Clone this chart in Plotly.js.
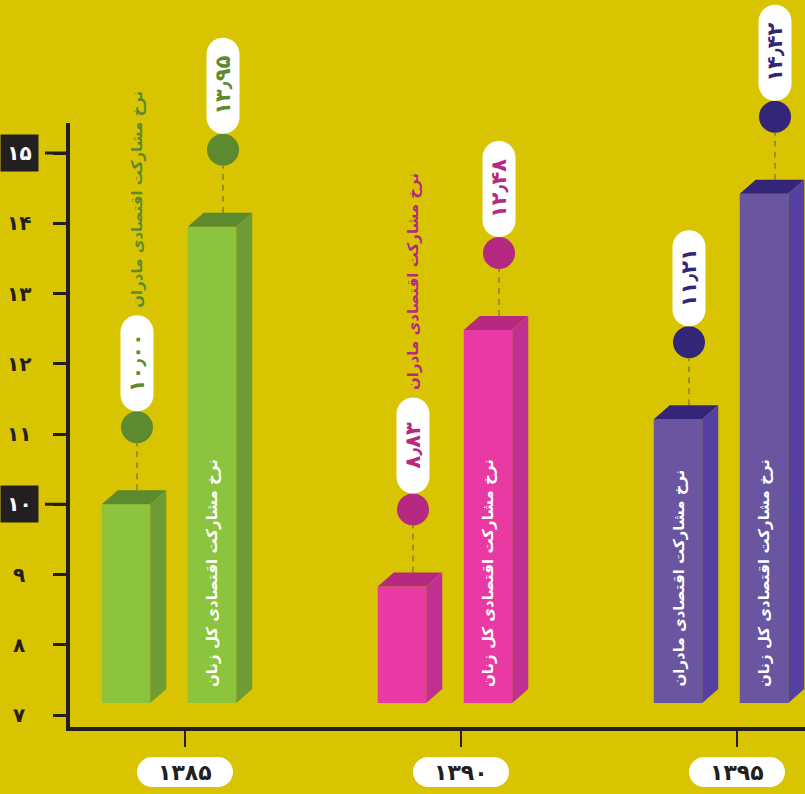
<!DOCTYPE html>
<html><head><meta charset="utf-8">
<script src="https://cdn.plot.ly/plotly-3.0.1.min.js"></script>
<style>html,body{margin:0;padding:0;background:#d8c400;}</style>
</head><body><div id="chart" style="width:805px;height:794px;"></div>
<script>
// ---------- data ----------
const years = [1385, 1390, 1395];
const yearLabels = ['۱۳۸۵', '۱۳۹۰', '۱۳۹۵'];
const mothersRate = [10.00, 8.83, 11.21];
const womenRate = [13.95, 12.48, 14.42];
const mothersName = 'نرخ مشارکت اقتصادی مادران';
const womenName = 'نرخ مشارکت اقتصادی کل زنان';
const yTickVals = [7, 8, 9, 10, 11, 12, 13, 14, 15];
const yTickText = ['۷', '۸', '۹', '۱۰', '۱۱', '۱۲', '۱۳', '۱۴', '۱۵'];
const yBoxedTicks = [10, 15];

// ---------- style / geometry ----------
const FONT = 'DejaVu Sans, Noto Sans, sans-serif';
const INK = '#231f20';
const BG = '#d8c400';
const DASH = '#9e9020';
const palettes = [
  {front: '#8cc43e', side: '#6c9c33', top: '#5e8a2f', dark: '#5e8a2f'},
  {front: '#e83aa2', side: '#c22f92', top: '#b52a80', dark: '#b52a80'},
  {front: '#6a55a0', side: '#5340a0', top: '#332679', dark: '#332679'}
];
const W = 805, H = 794;
const M = {l: 68, r: 0, t: 0, b: 67};
const PW = W - M.l - M.r, PH = H - M.t - M.b;
const PX_PER_Y = 70.25, PX_PER_X = 55.2;
const Y0 = 7 - 12 / PX_PER_Y;
const yRange = [Y0, Y0 + PH / PX_PER_Y];
const X0 = years[0] - 117 / PX_PER_X;
const xRange = [X0, X0 + PW / PX_PER_X];
const dxU = px => px / PX_PER_X;
const dyU = px => px / PX_PER_Y;
const toPaperX = x => (x - xRange[0]) / (xRange[1] - xRange[0]);
const BASE = Y0 + dyU(24);
const BAR_W = dxU(48.5);
const OFFSETS = [dxU(-59) - BAR_W / 2, dxU(27) - BAR_W / 2];
const DEPTH_X = 16, DEPTH_Y = 14;

const faDigits = '۰۱۲۳۴۵۶۷۸۹';
const toFa = s => String(s).replace(/[0-9]/g, d => faDigits[+d]).replace('.', '٫');

function roundRect(cx, cy, w, h, fx, fy) {
  const r = Math.min(w, h) / 2, k = 0.5523, hw = w / 2, hh = h / 2;
  const P = (x, y) => (cx + fx(x)) + ',' + (cy + fy(y));
  return 'M' + P(-hw + r, -hh) + ' L' + P(hw - r, -hh) +
    ' C' + P(hw - r + k * r, -hh) + ' ' + P(hw, -hh + r - k * r) + ' ' + P(hw, -hh + r) +
    ' L' + P(hw, hh - r) +
    ' C' + P(hw, hh - r + k * r) + ' ' + P(hw - r + k * r, hh) + ' ' + P(hw - r, hh) +
    ' L' + P(-hw + r, hh) +
    ' C' + P(-hw + r - k * r, hh) + ' ' + P(-hw, hh - r + k * r) + ' ' + P(-hw, hh - r) +
    ' L' + P(-hw, -hh + r) +
    ' C' + P(-hw, -hh + r - k * r) + ' ' + P(-hw + r - k * r, -hh) + ' ' + P(-hw + r, -hh) + ' Z';
}

const traces = [];
const shapes = [];
const annotations = [];
const series = [
  {name: mothersName, values: mothersRate},
  {name: womenName, values: womenRate}
];

series.forEach((s, si) => {
  const off = OFFSETS[si];
  traces.push({
    type: 'bar', name: s.name, x: years, y: s.values.map(v => v - BASE), base: BASE,
    width: BAR_W, offset: off,
    marker: {color: palettes.map(p => p.front), line: {width: 0}},
    hoverinfo: 'skip', textposition: 'none'
  });
  const cxs = [], cys = [];
  s.values.forEach((v, i) => {
    const pal = palettes[i];
    const xl = years[i] + off, xr = xl + BAR_W, ddx = dxU(DEPTH_X), ddy = dyU(DEPTH_Y);
    shapes.push({type: 'path', xref: 'x', yref: 'y', layer: 'above', line: {width: 0}, fillcolor: pal.top,
      path: `M${xl},${v} L${xr},${v} L${xr + ddx},${v + ddy} L${xl + ddx},${v + ddy} Z`});
    shapes.push({type: 'path', xref: 'x', yref: 'y', layer: 'above', line: {width: 0}, fillcolor: pal.side,
      path: `M${xr},${v} L${xr + ddx},${v + ddy} L${xr + ddx},${BASE + ddy} L${xr},${BASE} Z`});
    const barC = xl + BAR_W / 2;
    const cx = barC + dxU(11);
    const cy = v + dyU(77);
    cxs.push(cx); cys.push(cy);
    shapes.push({type: 'line', xref: 'x', yref: 'y', layer: 'below', x0: cx, x1: cx,
      y0: v + dyU(DEPTH_Y), y1: cy - dyU(16), line: {color: DASH, width: 2, dash: '6px,5px'}});
    const py = cy + dyU(64);
    shapes.push({type: 'path', xref: 'x', yref: 'y', layer: 'above', line: {width: 0}, fillcolor: '#ffffff',
      path: roundRect(cx, py, 33, 96, dxU, dyU)});
    annotations.push({x: cx, y: py, xref: 'x', yref: 'y', text: toFa(v.toFixed(2)), showarrow: false,
      textangle: -90, xanchor: 'center', yanchor: 'middle',
      font: {family: FONT, size: 21, color: pal.dark, weight: 'bold'}});
    // series label
    const fits = (v - BASE) * PX_PER_Y > 250;
    if (fits) {
      annotations.push({x: barC, y: BASE, xref: 'x', yref: 'y', yshift: 14, text: s.name, showarrow: false,
        textangle: -90, xanchor: 'center', yanchor: 'bottom',
        font: {family: FONT, size: 15, color: '#ffffff', weight: 'bold'}});
    } else {
      annotations.push({x: cx, y: py + dyU(53), xref: 'x', yref: 'y', text: s.name, showarrow: false,
        textangle: -90, xanchor: 'center', yanchor: 'bottom',
        font: {family: FONT, size: 15, color: pal.dark, weight: 'bold'}});
    }
  });
  traces.push({type: 'scatter', mode: 'markers', x: cxs, y: cys, cliponaxis: false, hoverinfo: 'skip',
    marker: {size: 32, color: palettes.map(p => p.dark), line: {width: 0}}});
});

// y axis line
shapes.push({type: 'line', xref: 'paper', yref: 'paper', layer: 'above', x0: 0, x1: 0,
  y0: -4 / PH, y1: (PH - 123) / PH, line: {color: INK, width: 4}});
// y tick labels
yTickVals.forEach((t, i) => {
  const boxed = yBoxedTicks.includes(t);
  if (boxed) {
    shapes.push({type: 'line', xref: 'paper', yref: 'y', layer: 'above', x0: -23 / PW, x1: 0, y0: t, y1: t,
      line: {color: INK, width: 3}});
  }
  annotations.push({x: 0, xref: 'paper', xshift: -49, y: t, yref: 'y', text: yTickText[i], showarrow: false,
    xanchor: 'center', yanchor: 'middle',
    bgcolor: boxed ? INK : 'rgba(0,0,0,0)', width: boxed ? 37 : undefined, height: boxed ? 36 : undefined,
    borderpad: 0,
    font: {family: FONT, size: 20, color: boxed ? '#ffffff' : INK, weight: 'bold'}});
});
// year pills
years.forEach((yv, i) => {
  const pcx = toPaperX(yv), pcy = -45 / PH;
  shapes.push({type: 'path', xref: 'paper', yref: 'paper', layer: 'above', line: {width: 0}, fillcolor: '#ffffff',
    path: roundRect(pcx, pcy, 96, 30, px => px / PW, py => py / PH)});
  annotations.push({x: yv, xref: 'x', y: 0, yref: 'paper', yshift: -45, text: yearLabels[i], showarrow: false,
    xanchor: 'center', yanchor: 'middle',
    font: {family: FONT, size: 22, color: INK, weight: 'bold'}});
});

const layout = {
  width: W, height: H, margin: M,
  paper_bgcolor: BG, plot_bgcolor: 'rgba(0,0,0,0)',
  showlegend: false, barmode: 'overlay',
  xaxis: {type: 'linear', range: xRange, tickvals: years, ticktext: yearLabels, showticklabels: false,
    ticks: 'outside', ticklen: 16, tickwidth: 2, tickcolor: INK,
    showline: true, linewidth: 4, linecolor: INK, showgrid: false, zeroline: false, fixedrange: true},
  yaxis: {type: 'linear', range: yRange, tickvals: yTickVals, ticktext: yTickText, showticklabels: false,
    ticks: 'outside', ticklen: 14, tickwidth: 3, tickcolor: INK,
    showline: false, showgrid: false, zeroline: false, fixedrange: true},
  shapes: shapes,
  annotations: annotations
};
Plotly.newPlot('chart', traces, layout, {displayModeBar: false, staticPlot: true});
</script>
</body></html>
